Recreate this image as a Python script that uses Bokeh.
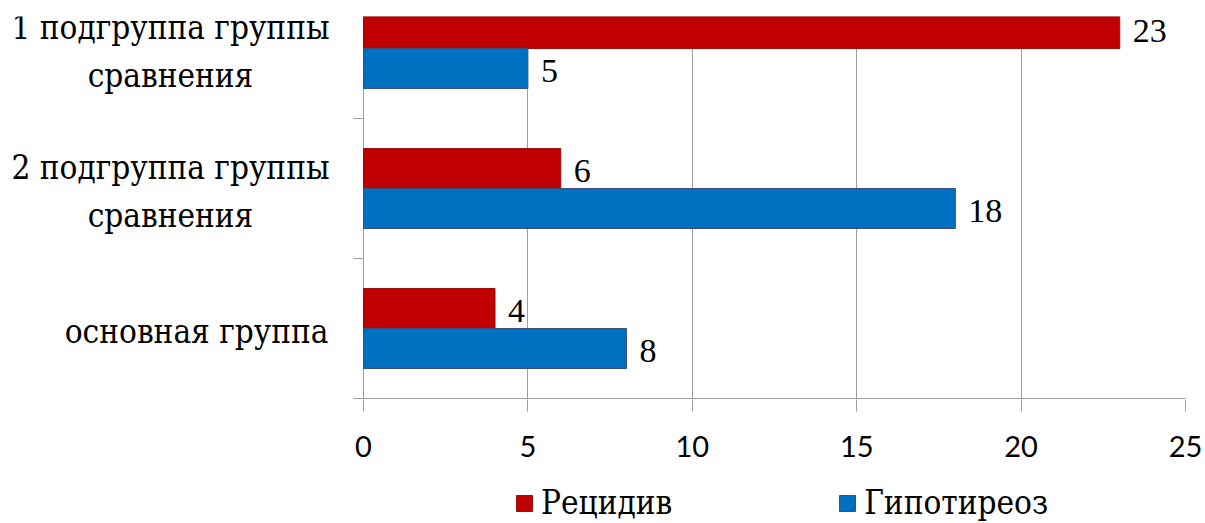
import numpy as np
from bokeh.plotting import figure
from bokeh.layouts import column
from bokeh.models import ColumnDataSource, Range1d, FixedTicker, Legend, LegendItem
from bokeh.core.properties import value
from bokeh.embed import file_html
from bokeh.resources import INLINE

# ---- data ----
categories = ["основная группа", "2 подгруппа группы\nсравнения", "1 подгруппа группы\nсравнения"]
cat_pos = [0, 1, 2]
recidiv = [4, 6, 23]
hypothyroid = [8, 18, 5]
series_names = ["Рецидив", "Гипотиреоз"]
x_ticks = [0, 5, 10, 15, 20, 25]

RED = "#C00000"
BLUE = "#0070C0"
GRAY = "#9f9f9f"
SERIF = "Liberation Serif"
CYR = "DejaVu Serif Condensed, DejaVu Serif"
SANS = "Lato"

# pixel geometry of the frame
PX_LEFT = 363          # where x = 0 sits
PX_RIGHT = 1185
PX_PER_CAT = 140
px_per_unit = (PX_RIGHT - PX_LEFT) / (x_ticks[-1] - x_ticks[0])
x_start = -PX_LEFT / px_per_unit

bar_h = 40 / PX_PER_CAT
off = bar_h / 2

p = figure(width=1205, height=480, output_backend="svg", toolbar_location=None,
           x_range=Range1d(x_start, x_ticks[-1]),
           y_range=Range1d(-0.5 - 1 / PX_PER_CAT, -0.5 + 382 / PX_PER_CAT),
           min_border_left=0, min_border_right=1205 - PX_RIGHT,
           min_border_top=16, min_border_bottom=81)
p.outline_line_color = None
p.yaxis.visible = False

src_r = ColumnDataSource(dict(y=[c + off for c in cat_pos], v=recidiv, t=[str(v) for v in recidiv]))
src_b = ColumnDataSource(dict(y=[c - off for c in cat_pos], v=hypothyroid, t=[str(v) for v in hypothyroid]))

r1 = p.hbar(y="y", left=0, right="v", height=bar_h, source=src_r,
            fill_color=RED, line_color="#9a1010", line_width=1)
r2 = p.hbar(y="y", left=0, right="v", height=bar_h, source=src_b,
            fill_color=BLUE, line_color="#3a4f80", line_width=1)

for src in (src_r, src_b):
    p.text(x="v", y="y", text="t", source=src, x_offset=13, y_offset=2,
           text_font=value(SERIF), text_font_size="34px", text_color="black",
           text_align="left", text_baseline="middle")

# x axis (line drawn as a ray so it starts at the value axis)
xa = p.xaxis[0]
xa.ticker = FixedTicker(ticks=x_ticks)
xa.axis_line_color = None
xa.major_tick_line_color = GRAY
xa.major_tick_out = 12
xa.major_tick_in = 0
xa.minor_tick_line_color = None
xa.major_label_text_font = SANS
xa.major_label_text_font_size = "29px"
xa.major_label_text_color = "black"
xa.major_label_standoff = 24

p.xgrid.ticker = FixedTicker(ticks=x_ticks)
p.xgrid.grid_line_color = GRAY
p.ygrid.grid_line_color = None

# category axis: baseline + boundary ticks
bounds = [c - 0.5 for c in cat_pos]
p.ray(x=[0], y=[bounds[0]], length=0, angle=0, line_color=GRAY, line_width=1)
p.ray(x=[0] * len(bounds), y=bounds, length=10, length_units="screen", angle=np.pi,
      line_color=GRAY, line_width=1)

# category labels (multi-line centred as a block, single-line right aligned)
multi = [(n, c) for n, c in zip(categories, cat_pos) if "\n" in n]
single = [(n, c) for n, c in zip(categories, cat_pos) if "\n" not in n]
p.text(x=[0] * len(multi), y=[c for _, c in multi], text=[n for n, _ in multi],
       x_offset=-193, y_offset=3, text_font=value(CYR), text_font_size="33px",
       text_color="black", text_align="center", text_baseline="middle", text_line_height=1.25)
p.text(x=[0] * len(single), y=[c for _, c in single], text=[n for n, _ in single],
       x_offset=-35, y_offset=3, text_font=value(CYR), text_font_size="33px",
       text_color="black", text_align="right", text_baseline="middle")

# legend strip
p2 = figure(width=1205, height=43, output_backend="svg", toolbar_location=None,
            x_axis_type=None, y_axis_type=None, x_range=Range1d(0, 1), y_range=Range1d(0, 1),
            min_border=0)
p2.outline_line_color = None
p2.grid.visible = False
d1 = p2.hbar(y=[-1], right=[0], height=0.1, fill_color=RED, line_color="#9a1010")
d2 = p2.hbar(y=[-1], right=[0], height=0.1, fill_color=BLUE, line_color="#3a4f80")
legend = Legend(items=[LegendItem(label=series_names[0], renderers=[d1]),
                       LegendItem(label=series_names[1], renderers=[d2])],
                orientation="horizontal", location=(514, 1),
                label_text_font=CYR, label_text_font_size="33px", label_text_color="black",
                glyph_width=20, glyph_height=20, label_standoff=7, spacing=165,
                padding=0, margin=0, border_line_color=None, background_fill_alpha=0)
p2.add_layout(legend, "center")

layout = column(p, p2, spacing=0)
open("out.html", "w").write(file_html(layout, INLINE))
